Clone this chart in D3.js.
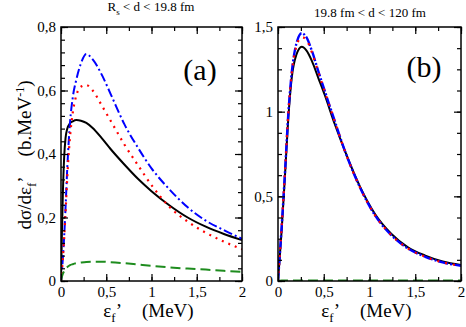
<!DOCTYPE html>
<html><head><meta charset="utf-8">
<script src="https://cdn.jsdelivr.net/npm/d3@7"></script>
<style>
html,body{margin:0;padding:0;background:#fff;}
svg{display:block;}
.sf{font-family:'Liberation Serif','Times New Roman',Times;}
</style></head>
<body><svg id="c" width="466" height="327" class="sf"></svg>
<script>
// ---- data ----
const xA = [0,0.01,0.02,0.035,0.05,0.07,0.1,0.13,0.17,0.22,0.28,0.35,0.45,0.55,0.7,0.85,1.0,1.2,1.4,1.6,1.8,2.0];
const blackA = [0,0.15,0.27,0.39,0.45,0.48,0.497,0.503,0.507,0.505,0.498,0.482,0.45,0.415,0.367,0.322,0.283,0.238,0.2,0.171,0.148,0.129];
const blueA  = [0,0.03,0.07,0.14,0.23,0.36,0.5,0.578,0.635,0.685,0.715,0.698,0.65,0.588,0.494,0.42,0.355,0.288,0.232,0.19,0.16,0.133];
const redA   = [0,0.03,0.07,0.135,0.215,0.33,0.455,0.53,0.585,0.612,0.617,0.6,0.553,0.504,0.43,0.365,0.302,0.233,0.187,0.152,0.124,0.1];
const greenA = [0,0.013,0.022,0.031,0.038,0.044,0.05,0.053,0.056,0.058,0.06,0.061,0.061,0.059,0.056,0.052,0.048,0.043,0.039,0.036,0.032,0.029];

const xB = [0,0.04,0.077,0.113,0.15,0.2,0.26,0.31,0.37,0.44,0.51,0.62,0.73,0.9,1.06,1.24,1.42,1.61,1.8,2.0];
const blackB = [0,0.3,0.63,0.965,1.2,1.335,1.384,1.362,1.30,1.2,1.1,0.927,0.77,0.553,0.396,0.278,0.199,0.15,0.115,0.095];
const blueB  = [0,0.32,0.65,0.99,1.23,1.4,1.463,1.44,1.36,1.24,1.124,0.945,0.77,0.548,0.388,0.27,0.192,0.143,0.11,0.09];
const redB   = [0,0.32,0.65,0.99,1.225,1.385,1.44,1.425,1.35,1.235,1.12,0.943,0.768,0.547,0.388,0.27,0.192,0.143,0.11,0.09];
const greenB = [0,0.003,0.003,0.003,0.003,0.003,0.003,0.003,0.003,0.003,0.003,0.003,0.003,0.003,0.003,0.003,0.003,0.003,0.003,0.003];

const xTicks = [0,0.5,1,1.5,2];
const xTickLabels = ["0","0,5","1","1,5","2"];
const yTicksA = [0,0.2,0.4,0.6,0.8];
const yTickLabelsA = ["0","0,2","0,4","0,6","0,8"];
const yTicksB = [0,0.5,1,1.5];
const yTickLabelsB = ["0","0,5","1","1,5"];

// ---- drawing ----
const svg = d3.select("#c");
const colors = {black:"#000000", red:"#ff0000", blue:"#0000ff", green:"#1e8c1e"};

function serif(sel, size){
  return sel.attr("class","sf").attr("font-family","Liberation Serif").attr("font-size",size)
    .style("font-family","'Liberation Serif'").style("font-size",size+"px");
}

function panel(opt){
  const g = svg.append("g");
  const x = d3.scaleLinear().domain([0,2]).range([opt.left, opt.right]);
  const y = d3.scaleLinear().domain([0,opt.ymax]).range([opt.bottom, opt.top]);
  const clipId = "clip"+opt.name;
  svg.append("clipPath").attr("id",clipId).append("rect")
    .attr("x",opt.left).attr("y",opt.top).attr("width",opt.right-opt.left).attr("height",opt.bottom-opt.top);

  const line = d3.line().x(d=>x(d[0])).y(d=>y(d[1])).curve(d3.curveMonotoneX);
  const curves = g.append("g").attr("clip-path","url(#"+clipId+")");
  opt.series.forEach(s=>{
    curves.append("path").datum(opt.xs.map((v,i)=>[v,s.vals[i]]))
      .attr("d",line).attr("fill","none").attr("stroke",s.color)
      .attr("stroke-width",s.w).attr("stroke-dasharray",s.dash||null);
  });

  const xMinor = d3.range(0,2.0001,0.25);
  const yMinor = d3.range(0,opt.ymax+1e-9,opt.yminor);
  const axes = [];
  axes.push(g.append("g").attr("transform",`translate(0,${opt.bottom})`)
    .call(d3.axisBottom(x).tickValues(xTicks).tickFormat((d,i)=>xTickLabels[i]).tickSizeInner(-7).tickSizeOuter(0).tickPadding(11)));
  axes.push(g.append("g").attr("transform",`translate(0,${opt.top})`)
    .call(d3.axisTop(x).tickValues(xTicks).tickFormat("").tickSizeInner(-7).tickSizeOuter(0)));
  axes.push(g.append("g").attr("transform",`translate(${opt.left},0)`)
    .call(d3.axisLeft(y).tickValues(opt.yticks).tickFormat((d,i)=>opt.ylabels[i]).tickSizeInner(-7).tickSizeOuter(0).tickPadding(5)));
  axes.push(g.append("g").attr("transform",`translate(${opt.right},0)`)
    .call(d3.axisRight(y).tickValues(opt.yticks).tickFormat("").tickSizeInner(-7).tickSizeOuter(0)));
  axes.push(g.append("g").attr("transform",`translate(0,${opt.bottom})`).call(d3.axisBottom(x).tickValues(xMinor).tickFormat("").tickSizeInner(-4).tickSizeOuter(0)));
  axes.push(g.append("g").attr("transform",`translate(0,${opt.top})`).call(d3.axisTop(x).tickValues(xMinor).tickFormat("").tickSizeInner(-4).tickSizeOuter(0)));
  axes.push(g.append("g").attr("transform",`translate(${opt.left},0)`).call(d3.axisLeft(y).tickValues(yMinor).tickFormat("").tickSizeInner(-4).tickSizeOuter(0)));
  axes.push(g.append("g").attr("transform",`translate(${opt.right},0)`).call(d3.axisRight(y).tickValues(yMinor).tickFormat("").tickSizeInner(-4).tickSizeOuter(0)));
  axes.forEach(a=>a.attr("font-family",null).attr("font-size",null));
  g.selectAll(".domain").remove();
  g.selectAll(".tick line").attr("stroke","#000").attr("stroke-width",1.2);
  serif(g.selectAll(".tick text"),15).attr("fill","#000");
  axes[0].selectAll(".tick text").attr("dy","0.3em");

  g.append("rect").attr("x",opt.left).attr("y",opt.top).attr("width",opt.right-opt.left).attr("height",opt.bottom-opt.top)
    .attr("fill","none").attr("stroke","#000").attr("stroke-width",1.5);

  serif(g.append("text"),30).attr("x",opt.labX).attr("y",opt.labY).attr("text-anchor","middle").text(opt.label);

  const xt = serif(g.append("text"),19).attr("x",(opt.left+opt.right)/2 - 3).attr("y",317).attr("text-anchor","middle");
  xt.append("tspan").text("ε");
  xt.append("tspan").style("font-size","13px").attr("dy",5).text("f");
  xt.append("tspan").attr("dy",-5).text("’");
  xt.append("tspan").attr("dx",20).text("(MeV)");
  return g;
}

const plotTop=27, plotBottom=281;
panel({name:"a", left:61, right:242, top:plotTop, bottom:plotBottom, ymax:0.8, yminor:0.04,
  yticks:yTicksA, ylabels:yTickLabelsA, xs:xA, label:"(a)", labX:200, labY:80,
  series:[
    {vals:blackA, color:colors.black, w:2},
    {vals:blueA, color:colors.blue, w:2, dash:"9,3,2,3"},
    {vals:redA, color:colors.red, w:2.2, dash:"2,5"},
    {vals:greenA, color:colors.green, w:2, dash:"10,5"}
  ]});
panel({name:"b", left:278, right:461, top:plotTop, bottom:plotBottom, ymax:1.5, yminor:0.125,
  yticks:yTicksB, ylabels:yTickLabelsB, xs:xB, label:"(b)", labX:424, labY:77,
  series:[
    {vals:blackB, color:colors.black, w:2},
    {vals:blueB, color:colors.blue, w:2.4, dash:"10,2,2,2"},
    {vals:redB, color:colors.red, w:2.2, dash:"2,6"},
    {vals:greenB, color:colors.green, w:2, dash:"10,5"}
  ]});

const t1 = serif(svg.append("text"),13).attr("x",151).attr("y",11).attr("text-anchor","middle");
t1.append("tspan").text("R");
t1.append("tspan").style("font-size","9px").attr("dy",4).text("s");
t1.append("tspan").attr("dy",-4).text(" < d < 19.8 fm");
serif(svg.append("text"),13).attr("x",370).attr("y",17).attr("text-anchor","middle").text("19.8 fm < d < 120 fm");

const yt = serif(svg.append("text"),19).attr("transform","translate(31,155) rotate(-90)").attr("text-anchor","middle");
yt.append("tspan").text("dσ/dε");
yt.append("tspan").style("font-size","13px").attr("dy",5).text("f");
yt.append("tspan").attr("dy",-5).text("’");
yt.append("tspan").attr("dx",20).text("(b.MeV");
yt.append("tspan").style("font-size","12px").attr("dy",-7).text("-1");
yt.append("tspan").attr("dy",7).text(")");
</script></body></html>
